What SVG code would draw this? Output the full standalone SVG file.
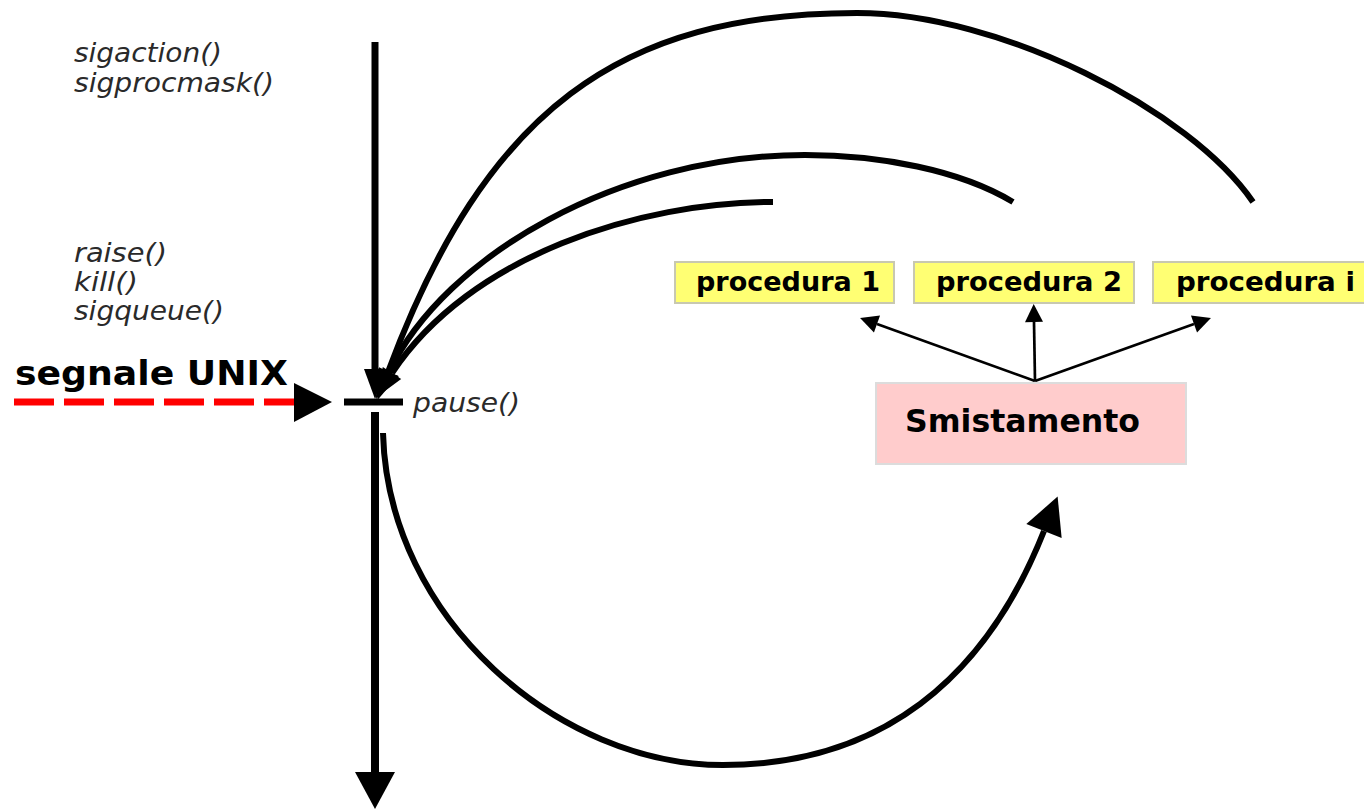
<svg xmlns="http://www.w3.org/2000/svg" width="1364" height="810" viewBox="0 0 1364 810">
<style>
.it{font-family:"DejaVu Sans","Liberation Sans",sans-serif;font-style:oblique;font-size:27px;fill:#2a2a2a}
.bd{font-family:"DejaVu Sans","Liberation Sans",sans-serif;font-weight:bold;fill:#000}
.arc{fill:none;stroke:#000;stroke-width:6;stroke-linecap:butt}
.thin{fill:none;stroke:#000;stroke-width:2.7}
.proc{fill:#ffff73;stroke:#c8c8b0;stroke-width:2}
</style>
<defs>
<marker id="ah" markerUnits="userSpaceOnUse" markerWidth="32" markerHeight="24" refX="0" refY="11" orient="auto" overflow="visible">
<path d="M0,0 L30,11 L0,22 Z" fill="#000"/>
</marker>
<marker id="ahBig" markerUnits="userSpaceOnUse" markerWidth="40" markerHeight="40" refX="0" refY="19" orient="auto" overflow="visible">
<path d="M0,0 L37,19 L0,38 Z" fill="#000"/>
</marker>
<marker id="ahS" markerUnits="userSpaceOnUse" markerWidth="20" markerHeight="20" refX="0" refY="9" orient="auto" overflow="visible">
<path d="M0,0 L18,9 L0,18 Z" fill="#000"/>
</marker>
</defs>
<rect width="1364" height="810" fill="#fff"/>

<g id="labels">
<text class="it" x="74" y="62" textLength="148" lengthAdjust="spacingAndGlyphs">sigaction()</text>
<text class="it" x="74" y="92" textLength="200" lengthAdjust="spacingAndGlyphs">sigprocmask()</text>
<text class="it" x="74" y="262" textLength="93" lengthAdjust="spacingAndGlyphs">raise()</text>
<text class="it" x="74" y="291" textLength="64" lengthAdjust="spacingAndGlyphs">kill()</text>
<text class="it" x="74" y="320" textLength="150" lengthAdjust="spacingAndGlyphs">sigqueue()</text>
<text class="it" x="413" y="412" textLength="107" lengthAdjust="spacingAndGlyphs">pause()</text>
</g>

<g id="segnale">
<text class="bd" x="15" y="385" font-size="33" textLength="273" lengthAdjust="spacingAndGlyphs">segnale UNIX</text>
<line x1="14" y1="402" x2="296" y2="402" stroke="#ff0000" stroke-width="7" stroke-dasharray="40 10"/>
<path d="M294,383 L332,402 L294,422 Z" fill="#000"/>
</g>

<g id="timeline">
<line x1="375" y1="42" x2="375" y2="369" stroke="#000" stroke-width="7" marker-end="url(#ah)"/>
<line x1="344" y1="402" x2="403" y2="402" stroke="#000" stroke-width="7"/>
<line x1="375" y1="412" x2="375" y2="773" stroke="#000" stroke-width="8"/>
<path d="M355,772 L395,772 L375,809 Z" fill="#000"/>
</g>

<g id="connectors">
<path class="arc" d="M1253,202 C1190,110 1000,13 857,13 C620,13 486,109 388,372" marker-end="url(#ah)"/>
<path class="arc" d="M1013,202 C960,170 880,155 805,155 C620,155 445,255 389,372" marker-end="url(#ah)"/>
<path class="arc" d="M773,202 C640,202 470,255 392,373" marker-end="url(#ah)"/>
<path class="arc" d="M383,433 C388,620 560,765 723,765 C880,765 985,680 1044,531" marker-end="url(#ahBig)"/>
<line class="thin" x1="1035" y1="381" x2="877" y2="324" marker-end="url(#ahS)"/>
<line class="thin" x1="1035" y1="381" x2="1034" y2="322" marker-end="url(#ahS)"/>
<line class="thin" x1="1035" y1="381" x2="1194" y2="324" marker-end="url(#ahS)"/>
</g>

<g id="proc1">
<rect class="proc" x="675" y="262" width="219" height="41"/>
<text class="bd" x="696" y="291" font-size="27" textLength="184" lengthAdjust="spacingAndGlyphs">procedura 1</text>
</g>
<g id="proc2">
<rect class="proc" x="914" y="262" width="220" height="41"/>
<text class="bd" x="936" y="291" font-size="27" textLength="186" lengthAdjust="spacingAndGlyphs">procedura 2</text>
</g>
<g id="proci">
<rect class="proc" x="1153" y="262" width="215" height="41"/>
<text class="bd" x="1176" y="291" font-size="27" textLength="179" lengthAdjust="spacingAndGlyphs">procedura i</text>
</g>
<g id="smistamento">
<rect x="876" y="383" width="310" height="81" fill="#ffcccc" stroke="#dcdcdc" stroke-width="2"/>
<text class="bd" x="905" y="432" font-size="32" textLength="235" lengthAdjust="spacingAndGlyphs">Smistamento</text>
</g>
</svg>
